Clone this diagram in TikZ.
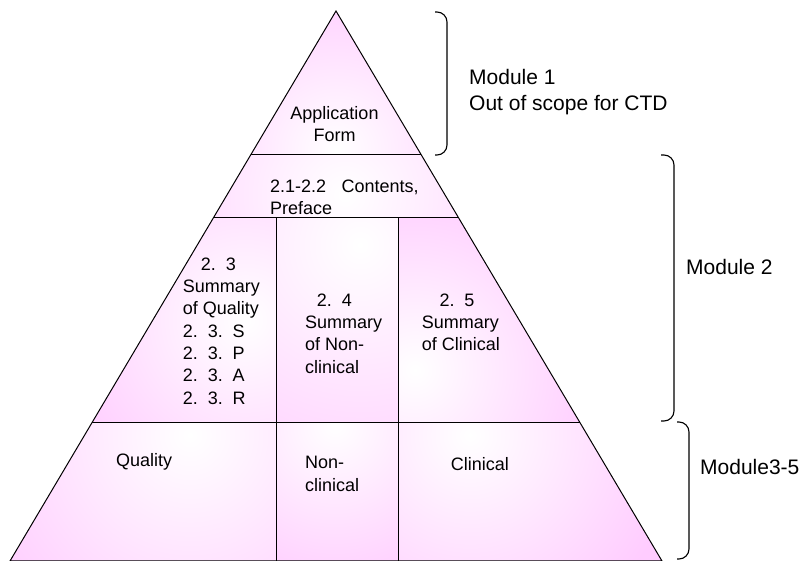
\documentclass[tikz,border=0pt]{standalone}
\usepackage{fontspec}
\setmainfont{Liberation Sans}
\usetikzlibrary{calc}
\definecolor{pinkfill}{RGB}{255,204,255}
\tikzstyle{edge}=[draw=black, line width=1pt]
\tikzstyle{bracket}=[draw=black, line width=1.1pt, rounded corners=10pt]
\tikzstyle{txt}=[inner sep=0pt, anchor=west, align=left, font=\fontsize{18}{22.3}\selectfont]
\tikzstyle{lbl}=[inner sep=0pt, anchor=west, align=left, font=\fontsize{21}{26}\selectfont]
\newcommand{\dsep}{.\hspace{0.55em}}
\newcommand{\pinkcell}[3]
{
  \begin{scope}
    \clip #1;
    \fill[pinkfill] #1;
    \shade[inner color=white, outer color=pinkfill] #2 circle (#3);
  \end{scope}
}

\begin{document}
\begin{tikzpicture}[x=1pt, y=-1pt]
	\useasboundingbox (0,0) rectangle (807,561);

	\coordinate (apex) at (336,11);
	\coordinate (L1) at (250.6,155);  \coordinate (R1) at (421.4,155);
	\coordinate (L2) at (213.3,218);  \coordinate (R2) at (458.7,218);
	\coordinate (L3) at (91.8,423);   \coordinate (R3) at (580.2,423);
	\coordinate (L4) at (10,561);     \coordinate (R4) at (662,561);
	\coordinate (V1a) at (276,218);   \coordinate (V2a) at (398,218);
	\coordinate (V1b) at (276,423);   \coordinate (V2b) at (398,423);
	\coordinate (V1c) at (276,561);   \coordinate (V2c) at (398,561);

	\pinkcell{(apex) -- (L1) -- (R1) -- cycle}{(336,150)}{170}
	\pinkcell{(L1) -- (L2) -- (R2) -- (R1) -- cycle}{(345,195)}{230}
	\pinkcell{(L2) -- (V1a) -- (V1b) -- (L3) -- cycle}{(245,320)}{200}
	\pinkcell{(V1a) -- (V2a) -- (V2b) -- (V1b) -- cycle}{(360,245)}{270}
	\pinkcell{(V2a) -- (R2) -- (R3) -- (V2b) -- cycle}{(415,370)}{190}
	\pinkcell{(L3) -- (V1b) -- (V1c) -- (L4) -- cycle}{(190,435)}{240}
	\pinkcell{(V1b) -- (V2b) -- (V2c) -- (V1c) -- cycle}{(335,425)}{170}
	\pinkcell{(V2b) -- (R3) -- (R4) -- (V2c) -- cycle}{(470,435)}{210}

	\draw[edge] (apex) -- (L4) -- (R4) -- cycle;
	\draw[edge] (L1) -- (R1);
	\draw[edge] (L2) -- (R2);
	\draw[edge] (L3) -- (R3);
	\draw[edge] (V1a) -- (V1c);
	\draw[edge] (V2a) -- (V2c);

	\node[txt, anchor=center, align=center] (appform) at (334.5,124) {Application\\Form};
	\node[txt] (contents) at (270,197.5) {2.1-2.2\hspace{0.85em}Contents,\\Preface};
	\node[txt] (sumqual) at (182.7,331) {\hspace*{18pt}2\dsep3\\Summary\\of Quality\\2\dsep3\dsep S\\2\dsep3\dsep P\\2\dsep3\dsep A\\2\dsep3\dsep R};
	\node[txt] (sumnon) at (305,333.5) {\hspace*{11.7pt}2\dsep4\\Summary\\of Non-\\clinical};
	\node[txt] (sumclin) at (421.7,322.5) {\hspace*{17.6pt}2\dsep5\\Summary\\of Clinical};
	\node[txt] (quality) at (116,461.7) {Quality};
	\node[txt] (nonclin) at (305,474) {Non-\\clinical};
	\node[txt] (clinical) at (450.7,464.3) {Clinical};

	\coordinate (b1t) at (435,12);   \coordinate (b1m) at (447,83);   \coordinate (b1b) at (435,155);
	\coordinate (b2t) at (661,155);  \coordinate (b2m) at (674,288);  \coordinate (b2b) at (661,421);
	\coordinate (b3t) at (677,422);  \coordinate (b3m) at (689,490);  \coordinate (b3b) at (677,559);
	\draw[bracket] (b1t) -| (b1m) |- (b1b);
	\draw[bracket] (b2t) -| (b2m) |- (b2b);
	\draw[bracket] (b3t) -| (b3m) |- (b3b);

	\node[lbl] (mod1) at (469,92) {Module 1\\Out of scope for CTD};
	\node[lbl] (mod2) at (686,266.7) {Module 2};
	\node[lbl] (mod35) at (700,466.7) {Module3-5};
\end{tikzpicture}
\end{document}
